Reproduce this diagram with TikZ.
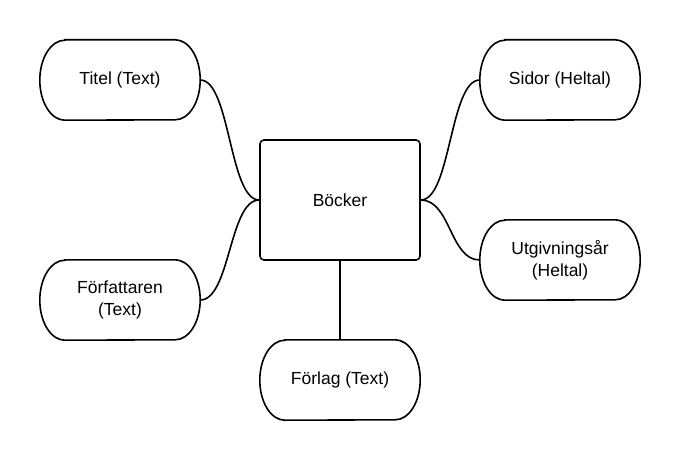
\documentclass[tikz,border=0pt]{standalone}
\usepackage{fontspec}
\setmainfont{Liberation Sans}
\begin{document}
\begin{tikzpicture}[x=1pt,y=-1pt,
  line/.style={line width=1.6pt,black},
  term/.style={minimum width=160pt,minimum height=80pt,inner sep=0pt,align=center,
    font=\fontsize{17.5}{22}\selectfont},
  entity/.style={line,draw,rounded corners=4pt,minimum width=160pt,minimum height=120pt,
    inner sep=0pt,align=center,font=\fontsize{17.5}{22}\selectfont},
  conn/.style={line}]
\useasboundingbox[fill=white] (0,0) rectangle (680,460);
\newcommand\termoutline[1]{\draw[line] ([xshift=25pt]#1.north west) -- ([xshift=-25pt]#1.north east)
  arc[start angle=90,end angle=-90,x radius=25pt,y radius=40pt]
  -- ([xshift=25pt]#1.south west)
  arc[start angle=270,end angle=90,x radius=25pt,y radius=40pt] -- cycle;}
\node[entity] (book) at (340,200) {Böcker};
\node[term] (titel) at (120,80) {Titel (Text)};
\node[term] (forf) at (120,300) {Författaren\\(Text)};
\node[term] (sidor) at (560,80) {Sidor (Heltal)};
\node[term] (utg) at (560,260) {Utgivningsår\\(Heltal)};
\node[term] (forlag) at (340,380) {Förlag (Text)};
\termoutline{titel}
\termoutline{forf}
\termoutline{sidor}
\termoutline{utg}
\termoutline{forlag}
\draw[conn] (titel.east) .. controls +(30,0) and +(-30,0) .. (book.west);
\draw[conn] (forf.east) .. controls +(30,0) and +(-30,0) .. (book.west);
\draw[conn] (sidor.west) .. controls +(-30,0) and +(30,0) .. (book.east);
\draw[conn] (utg.west) .. controls +(-30,0) and +(30,0) .. (book.east);
\draw[conn] (book.south) -- (forlag.north);
\end{tikzpicture}
\end{document}
